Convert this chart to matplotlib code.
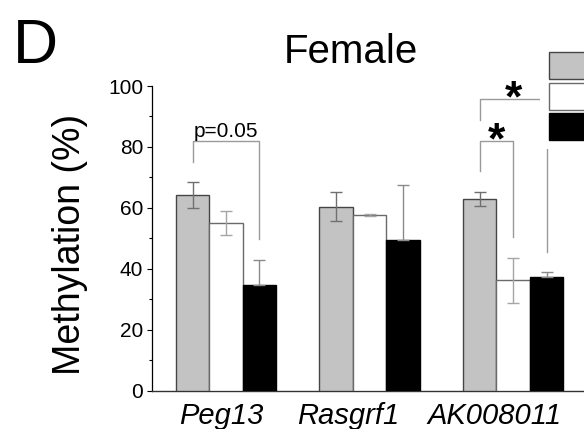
import numpy as np
import matplotlib
matplotlib.use("Agg")
import matplotlib.pyplot as plt
from matplotlib.patches import Patch

plt.rcParams['font.family'] = ['Liberation Sans', 'DejaVu Sans']

# Metilación media (%) por gen y grupo
genes = ['Peg13', 'Rasgrf1', 'AK008011']
grupo_gris = [64.1, 60.4, 63.0]
grupo_blanco = [55.0, 57.6, 36.2]
grupo_negro = [34.7, 49.4, 37.4]
err_gris = [4.3, 4.7, 2.3]
err_blanco = [4.0, 0.4, 7.3]
err_negro = [8.0, 18.2, 1.4]

x = np.arange(len(genes))
w = 0.233

fig = plt.figure(figsize=(5.84, 4.29), dpi=100)
ax = fig.add_axes([0.2611, 0.0897, 0.7389, 0.7098])

ax.bar(x - w, grupo_gris, w, color='#c3c3c3', edgecolor='#454545', linewidth=1, zorder=3)
ax.bar(x, grupo_blanco, w, color='white', edgecolor='#6a6a6a', linewidth=1, zorder=3)
ax.bar(x + w, grupo_negro, w, color='black', edgecolor='black', linewidth=1, zorder=3)

ax.errorbar(x - w, grupo_gris, yerr=err_gris, fmt='none', ecolor='#707070',
            elinewidth=1, capsize=4, capthick=1, zorder=4)
ax.errorbar(x, grupo_blanco, yerr=err_blanco, fmt='none', ecolor='#a5a5a5',
            elinewidth=1, capsize=4, capthick=1, zorder=4)
# en las barras negras solo se ve la parte superior
ax.errorbar(x + w, grupo_negro, yerr=[np.zeros(3), err_negro], fmt='none',
            ecolor='#8a8a8a', elinewidth=1, capsize=4, capthick=1, zorder=4)

# corchetes de significancia
gc = '#9a9a9a'
ax.plot([x[0] - w, x[0] - w, x[0] + w, x[0] + w], [75.1, 82.0, 82.0, 49.8],
        color=gc, lw=1, zorder=2)
ax.text(x[0], 83.3, 'p=0.05', ha='center', va='baseline', fontsize=15)

ax.plot([x[2] - w, x[2] - w, x[2] + w, x[2] + w], [88.8, 95.6, 95.6, 45.5],
        color=gc, lw=1, zorder=2)
ax.plot([x[2] - w, x[2] - w, x[2], x[2]], [72.2, 82.0, 82.0, 50.3],
        color=gc, lw=1, zorder=2)
ax.text(x[2], 91.5, '*', ha='center', va='baseline', fontsize=32, fontweight='bold')
ax.text(x[2] - w / 2, 78.0, '*', ha='center', va='baseline', fontsize=32, fontweight='bold')

ax.set_ylim(0, 100)
ax.set_xlim(-0.512, 2.493)
ax.set_yticks([0, 20, 40, 60, 80, 100])
ax.set_yticks([10, 30, 50, 70, 90], minor=True)
ax.tick_params(axis='y', which='major', length=3.6, width=0.8, labelsize=15, pad=3)
ax.tick_params(axis='y', which='minor', length=2.2, width=0.8)

# etiquetas de genes algo corridas a la izquierda
ax.set_xticks(x + np.array([-0.03, -0.146, -0.13]))
ax.set_xticklabels(genes, fontsize=21, style='italic')
ax.tick_params(axis='x', length=0, pad=8)

for s in ['top', 'right']:
    ax.spines[s].set_visible(False)
ax.spines['left'].set_linewidth(0.9)
ax.spines['bottom'].set_color('#333333')
ax.spines['bottom'].set_linewidth(1)

fig.text(70 / 584, 0.430, 'Methylation (%)', rotation=90, ha='center', va='center', fontsize=27)
fig.text(351 / 584, 0.854, 'Female', ha='center', va='baseline', fontsize=29)
fig.text(13 / 584, 0.853, 'D', ha='left', va='baseline', fontsize=45)

handles = [Patch(facecolor='#c3c3c3', edgecolor='#454545'),
           Patch(facecolor='white', edgecolor='#6a6a6a'),
           Patch(facecolor='black', edgecolor='black')]
leg = ax.legend(handles, ['', '', ''], loc='upper left',
                bbox_to_anchor=(540 / 584, 1 - 43 / 429), bbox_transform=fig.transFigure,
                fontsize=15, handleheight=1.62, handlelength=2.5, labelspacing=0.17,
                borderpad=0.43, borderaxespad=0, frameon=True, fancybox=False)
leg.get_frame().set_facecolor('white')
leg.get_frame().set_edgecolor('none')
leg.get_frame().set_alpha(1)

fig.savefig('out.png', dpi=100)
